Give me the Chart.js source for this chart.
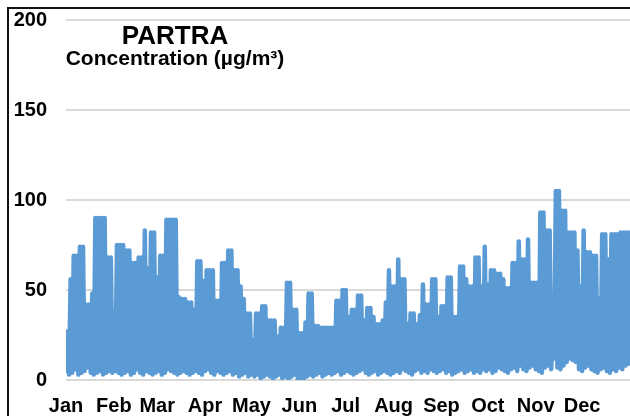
<!DOCTYPE html>
<html>
<head>
<meta charset="utf-8">
<script src="https://cdn.jsdelivr.net/npm/chart.js@4/dist/chart.umd.min.js"></script>
<style>
  html, body { margin: 0; padding: 0; background: #fff; overflow: hidden; }
  #wrap { position: relative; width: 630px; height: 416px; }
  #frame { position: absolute; left: 7px; top: 7px; width: 700px; height: 500px;
           border-left: 2px solid #111; border-top: 2px solid #111; }
  canvas { position: absolute; left: 0; top: 0; }
  .t { position: absolute; left: 0; width: 350px; text-align: center; line-height: 1;
       font-family: "Liberation Sans", Arial, sans-serif; font-weight: bold; color: #000; white-space: nowrap; }
  #t1 { top: 22px; font-size: 26px; }
  #t2 { top: 47px; font-size: 21px; }
</style>
</head>
<body>
<div id="wrap">
  <div id="frame"></div>
  <canvas id="c" width="630" height="416"></canvas>
  <div class="t" id="t1">PARTRA</div>
  <div class="t" id="t2">Concentration (µg/m³)</div>
</div>
<script>
// Month labels and the day of year each month starts
const monthLabels = ["Jan","Feb","Mar","Apr","May","Jun","Jul","Aug","Sep","Oct","Nov","Dec"];
const monthStarts = [0,31,59,90,120,151,181,212,243,273,304,334];
const yTicks = [0,50,100,150,200];

// Two-day bins: highest value in each bin (µg/m³)
const binPeaks = [
  27,56,69,69,74,74,42,42,48,90,
  90,90,90,68,68,38,75,75,75,72,
  72,65,65,68,68,83,62,82,82,57,
  69,69,89,89,89,89,46,45,45,43,
  43,39,66,66,55,61,61,61,44,44,
  65,65,72,72,61,61,52,45,37,37,
  22,37,37,41,41,33,33,33,24,29,
  29,54,54,39,39,26,26,32,48,48,
  30,30,29,29,29,29,29,44,44,50,
  50,35,39,39,47,47,33,40,40,35,
  31,31,33,43,61,52,52,67,56,56,
  31,37,37,31,36,53,42,42,56,56,
  35,41,41,57,57,35,35,63,63,56,
  52,52,68,68,52,74,53,61,61,59,
  59,56,51,51,65,65,77,67,67,78,
  54,54,54,93,93,83,83,27,105,105,
  94,94,82,82,82,72,52,83,71,71,
  69,69,45,81,81,67,81,81,81,82,
  82,82,82
];
// Two-day bins: lowest value in each bin (µg/m³)
const binLows = [
  5,3,4,6,3,4,5,7,4,3,4,5,3,4,5,4,
  5,4,3,4,5,3,4,6,4,3,5,4,3,4,5,3,4,6,5,4,3,4,5,4,3,
  4,5,4,3,5,6,4,3,5,4,3,4,5,3,4,2,3,4,2,3,
  2,3,1,2,3,2,1,2,3,1,2,0,2,3,-1,-1,1,2,3,2,3,4,2,3,4,
  3,4,5,3,4,5,4,3,4,5,6,4,3,4,5,3,4,5,4,3,4,
  5,4,6,5,4,3,5,6,4,5,4,6,5,4,5,6,4,5,3,4,5,6,4,5,6,4,5,4,6,
  5,6,4,5,7,6,5,4,6,7,5,8,6,5,7,8,6,5,4,7,8,6,12,7,6,
  8,10,12,11,10,6,5,7,8,6,5,4,6,7,5,4,6,5,7,6,8,9
];

// Build the point table: low at start of each bin, high one day later
const points = [];
for (let k = 0; k < binPeaks.length; k++) {
  points.push({ x: 2 * k, y: binLows[k] });
  points.push({ x: 2 * k + 1, y: binPeaks[k] });
}

const FONT = "'Liberation Sans', Arial, sans-serif";

new Chart(document.getElementById('c'), {
  type: 'line',
  data: {
    datasets: [{
      data: points,
      borderColor: '#5b9bd5',
      backgroundColor: '#5b9bd5',
      borderWidth: 4.5,
      pointRadius: 0,
      tension: 0,
      borderJoinStyle: 'round',
      borderCapStyle: 'round',
      fill: false
    }]
  },
  options: {
    responsive: false,
    animation: false,
    parsing: false,
    normalized: true,
    layout: { padding: { top: 20, left: 0, right: 0, bottom: 0 } },
    plugins: { legend: { display: false }, tooltip: { enabled: false }, title: { display: false } },
    scales: {
      x: {
        type: 'linear',
        min: 0,
        max: 365,
        grid: { display: false, drawTicks: false },
        border: { display: false },
        afterBuildTicks: (s) => { s.ticks = monthStarts.map(v => ({ value: v })); },
        afterFit: (s) => { s.height = 36; s.paddingLeft = 0; s.paddingRight = 0; },
        ticks: {
          autoSkip: false,
          maxRotation: 0,
          padding: 14,
          color: '#000',
          font: { family: FONT, size: 20, weight: 'bold' },
          callback: (v, i) => monthLabels[i]
        }
      },
      y: {
        min: 0,
        max: 200,
        afterBuildTicks: (s) => { s.ticks = yTicks.map(v => ({ value: v })); },
        afterFit: (s) => { s.width = 66; s.paddingTop = 0; s.paddingBottom = 0; },
        grid: { color: '#d9d9d9', lineWidth: 2, drawTicks: false },
        border: { display: false },
        ticks: {
          padding: 19,
          color: '#000',
          font: { family: FONT, size: 20, weight: 'bold' }
        }
      }
    }
  }
});
</script>
</body>
</html>
